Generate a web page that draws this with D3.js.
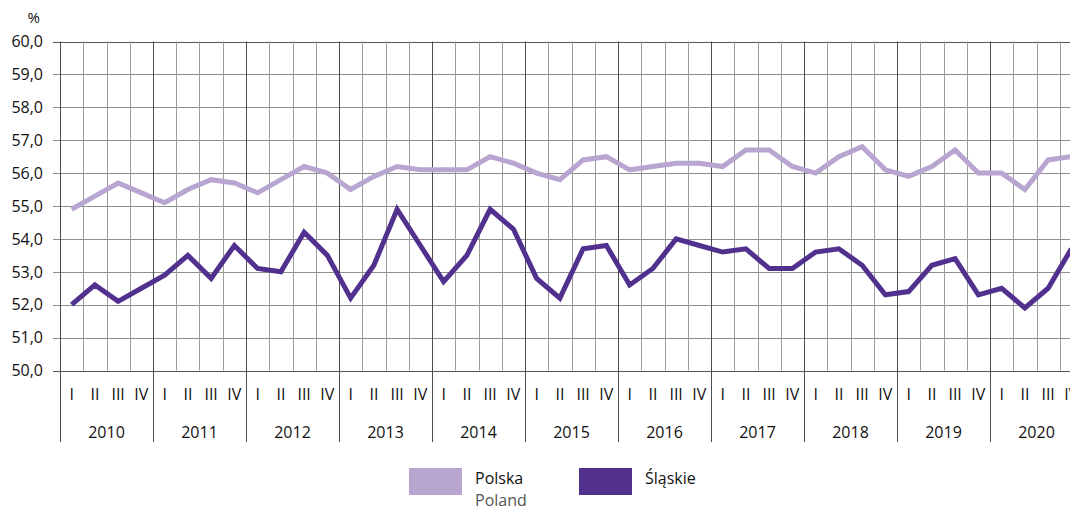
<!DOCTYPE html>
<html>
<head>
<meta charset="utf-8">
<script src="https://cdn.jsdelivr.net/npm/d3@7"></script>
<style>
  html, body { margin: 0; padding: 0; background: #fff; }
  svg { display: block; }
  text { font-family: "Open Sans", "Noto Sans", sans-serif; fill: #111; }
</style>
</head>
<body>
<svg id="chart" width="1070" height="511"></svg>
<script>
// Quarterly series, 2010 Q1 – 2020 Q4 (%)
const years = [2010, 2011, 2012, 2013, 2014, 2015, 2016, 2017, 2018, 2019, 2020];
const quarterLabels = ["I", "II", "III", "IV"];
const yTicks = [50, 51, 52, 53, 54, 55, 56, 57, 58, 59, 60];

const polska = [
  54.9, 55.3, 55.7, 55.4,
  55.1, 55.5, 55.8, 55.7,
  55.4, 55.8, 56.2, 56.0,
  55.5, 55.9, 56.2, 56.1,
  56.1, 56.1, 56.5, 56.3,
  56.0, 55.8, 56.4, 56.5,
  56.1, 56.2, 56.3, 56.3,
  56.2, 56.7, 56.7, 56.2,
  56.0, 56.5, 56.8, 56.1,
  55.9, 56.2, 56.7, 56.0,
  56.0, 55.5, 56.4, 56.5
];
const slaskie = [
  52.0, 52.6, 52.1, 52.5,
  52.9, 53.5, 52.8, 53.8,
  53.1, 53.0, 54.2, 53.5,
  52.2, 53.2, 54.9, 53.8,
  52.7, 53.5, 54.9, 54.3,
  52.8, 52.2, 53.7, 53.8,
  52.6, 53.1, 54.0, 53.8,
  53.6, 53.7, 53.1, 53.1,
  53.6, 53.7, 53.2, 52.3,
  52.4, 53.2, 53.4, 52.3,
  52.5, 51.9, 52.5, 53.7
];

const seriesNames = ["Polska", "Śląskie"];
const seriesSub = ["Poland", ""];
const colors = ["#b8a6d1", "#52308e"];

const svg = d3.select("#chart");
const plotLeft = 60, plotTop = 41.5, plotBottom = 370.5;
const nQ = years.length * 4;

// x: quarter index (boundaries at integers); y: percent
const x = d3.scaleLinear().domain([0, nQ]).range([plotLeft, plotLeft + 23.25 * nQ]);
const y = d3.scaleLinear().domain([50, 60]).range([plotBottom, plotTop]);
const xRight = 1070;

const grid = svg.append("g");

// horizontal gridlines + left ticks
grid.selectAll("line.h").data(yTicks).join("line")
  .attr("x1", plotLeft - 7).attr("x2", xRight)
  .attr("y1", d => Math.round(y(d)) + 0.5).attr("y2", d => Math.round(y(d)) + 0.5)
  .attr("stroke", d => (d === 60 || d === 50) ? "#555" : "#8e8e8e")
  .attr("stroke-width", 1);

// quarter vertical gridlines
const qBounds = d3.range(0, nQ + 1).filter(i => i % 4 !== 0);
grid.selectAll("line.q").data(qBounds).join("line")
  .attr("x1", i => Math.round(x(i)) + 0.5).attr("x2", i => Math.round(x(i)) + 0.5)
  .attr("y1", plotTop).attr("y2", plotBottom)
  .attr("stroke", "#9c9c9c").attr("stroke-width", 1);

// year boundaries, extending through the category axis
const yBounds = d3.range(0, nQ + 1, 4);
grid.selectAll("line.yr").data(yBounds).join("line")
  .attr("x1", i => Math.round(x(i)) + 0.5).attr("x2", i => Math.round(x(i)) + 0.5)
  .attr("y1", plotTop).attr("y2", 442)
  .attr("stroke", "#4d4d4d").attr("stroke-width", 1);

// y tick labels
svg.append("g").selectAll("text").data(yTicks).join("text")
  .attr("x", 43).attr("y", d => y(d)).attr("dy", "0.36em")
  .attr("text-anchor", "end").attr("font-size", 16)
  .text(d => d3.format(".1f")(d).replace(".", ","));

svg.append("text").attr("x", 40).attr("y", 23)
  .attr("text-anchor", "end").attr("font-size", 15).text("%");

// quarter labels (the last one runs past the right edge)
const qData = d3.range(nQ).map(i => ({ i, label: quarterLabels[i % 4] }));
svg.append("g").selectAll("text").data(qData).join("text")
  .attr("x", d => x(d.i + 0.5)).attr("y", 400)
  .attr("text-anchor", "middle").attr("font-size", 16)
  .text(d => d.label);

// year labels
svg.append("g").selectAll("text").data(years).join("text")
  .attr("x", (d, k) => x(k * 4 + 2)).attr("y", 438)
  .attr("text-anchor", "middle").attr("font-size", 16)
  .text(d => d);

// series lines
const line = d3.line()
  .x((d, i) => x(i + 0.5))
  .y(d => y(d));

[polska, slaskie].forEach((s, k) => {
  svg.append("path").datum(s)
    .attr("d", line)
    .attr("fill", "none")
    .attr("stroke", colors[k])
    .attr("stroke-width", 5)
    .attr("stroke-linejoin", "miter");
});

// legend
const legendX = [409, 579];
const lg = svg.append("g");
seriesNames.forEach((name, k) => {
  lg.append("rect").attr("x", legendX[k]).attr("y", 468)
    .attr("width", 53).attr("height", 27).attr("fill", colors[k]);
  lg.append("text").attr("x", legendX[k] + 66).attr("y", 484)
    .attr("font-size", 16).text(name);
  if (seriesSub[k]) {
    lg.append("text").attr("x", legendX[k] + 66).attr("y", 506)
      .attr("font-size", 16).style("fill", "#555").text(seriesSub[k]);
  }
});
</script>
</body>
</html>
